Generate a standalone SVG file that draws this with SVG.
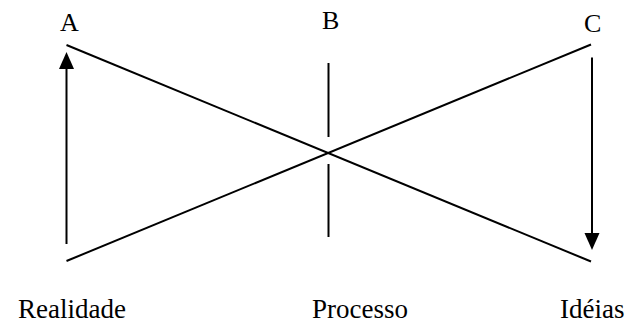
<svg xmlns="http://www.w3.org/2000/svg" width="625" height="323" viewBox="0 0 625 323">
<style>
.ln{stroke:#000;stroke-width:2;fill:none}
text{font-family:'Liberation Serif','Times New Roman','DejaVu Serif',serif;font-size:26px;fill:#000}
.lb{font-size:27px}
</style>
<rect width="625" height="323" fill="#fff"/>
<g id="connectors">
<line class="ln" x1="66.5" y1="45" x2="591" y2="261.5"/>
<line class="ln" x1="591" y1="44.5" x2="66.5" y2="261"/>
<line class="ln" x1="328.5" y1="63" x2="328.5" y2="137"/>
<line class="ln" x1="328.5" y1="164" x2="328.5" y2="237"/>
<line class="ln" x1="66.5" y1="244" x2="66.5" y2="68"/>
<path d="M66.5,52 L59,69 L74,69 Z" fill="#000"/>
<line class="ln" x1="592" y1="57.5" x2="592" y2="234"/>
<path d="M592,250 L584.5,233 L599.5,233 Z" fill="#000"/>
</g>
<g id="A"><text x="60" y="31">A</text></g>
<g id="B"><text x="322" y="29">B</text></g>
<g id="C"><text x="584" y="32">C</text></g>
<g id="Realidade"><text class="lb" x="18" y="318">Realidade</text></g>
<g id="Processo"><text class="lb" x="312" y="318">Processo</text></g>
<g id="Ideias"><text class="lb" x="560" y="318">Idéias</text></g>
</svg>
